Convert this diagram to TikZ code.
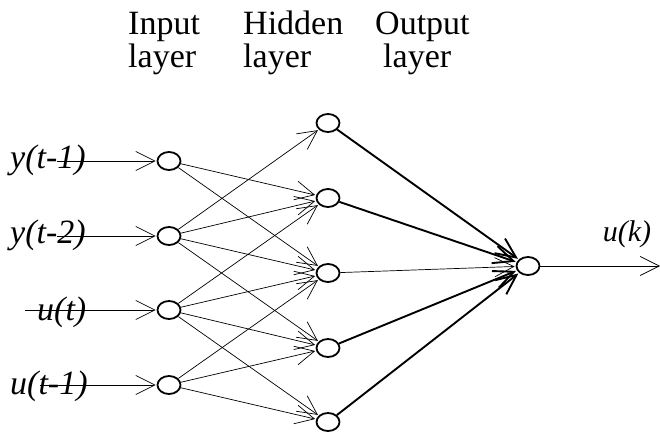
\documentclass[tikz,border=0pt]{standalone}
\usepackage{fontspec}
\setmainfont{Liberation Serif}
\usetikzlibrary{arrows.meta,shapes.geometric}
\begin{document}
\begin{tikzpicture}[x=1pt,y=-1pt,
  neuron/.style={draw,ellipse,line width=1.8pt,minimum width=23pt,minimum height=18pt,inner sep=0pt},
  wire/.style={line width=0.7pt,shorten >=1pt,-{Straight Barb[length=19pt,width=19pt]}},
  heavy/.style={line width=1.9pt,shorten >=1pt,-{Straight Barb[length=20pt,width=18pt]}},
  head/.style={anchor=base west,font=\fontsize{34}{36}\selectfont,inner sep=0pt},
  sig/.style={anchor=west,font=\fontsize{34}{35}\selectfont\itshape,inner sep=0pt}]
\useasboundingbox (0,0) rectangle (660,433);
% layer titles
\node[head] (t1) at (128,35) {Input};
\node[head] (t2) at (128,68) {layer};
\node[head] (t3) at (243,35) {Hidden};
\node[head] (t4) at (243,68) {layer};
\node[head] (t5) at (375,35) {Output};
\node[head] (t6) at (383,68) {layer};
% signal labels
\node[sig] (l1) at (10,160) {y(t-1)};
\node[sig] (l2) at (10,235) {y(t-2)};
\node[sig] (l3) at (37,312) {u(t)};
\node[sig] (l4) at (10,386) {u(t-1)};
\node[anchor=center,font=\fontsize{30}{32}\selectfont\itshape] (lk) at (627,234) {u(k)};
% neurons
\node[neuron] (i1) at (169,161) {};
\node[neuron] (i2) at (169,236) {};
\node[neuron] (i3) at (169,310) {};
\node[neuron] (i4) at (169,385) {};
\node[neuron] (h1) at (328,123) {};
\node[neuron] (h2) at (328,198) {};
\node[neuron] (h3) at (328,273) {};
\node[neuron] (h4) at (328,348) {};
\node[neuron] (h5) at (328,422) {};
\node[neuron] (o) at (528,266) {};
% inputs
\coordinate (s1) at (57,161);
\coordinate (s2) at (57,236);
\coordinate (s3) at (25,310);
\coordinate (s4) at (40,385);
\coordinate (e) at (661,266);
\draw[wire] (s1) -- (i1);
\draw[wire] (s2) -- (i2);
\draw[wire] (s3) -- (i3);
\draw[wire] (s4) -- (i4);
% input -> hidden
\draw[wire] (i1) -- (h2);
\draw[wire] (i1) -- (h3);
\draw[wire] (i2) -- (h1);
\draw[wire] (i2) -- (h2);
\draw[wire] (i2) -- (h3);
\draw[wire] (i2) -- (h4);
\draw[wire] (i3) -- (h2);
\draw[wire] (i3) -- (h3);
\draw[wire] (i3) -- (h4);
\draw[wire] (i3) -- (h5);
\draw[wire] (i4) -- (h3);
\draw[wire] (i4) -- (h4);
\draw[wire] (i4) -- (h5);
% hidden -> output
\draw[heavy] (h1) -- (o);
\draw[heavy] (h2) -- (o);
\draw[wire] (h3) -- (o);
\draw[heavy] (h4) -- (o);
\draw[heavy] (h5) -- (o);
\draw[wire] (o) -- (e);
\end{tikzpicture}
\end{document}
